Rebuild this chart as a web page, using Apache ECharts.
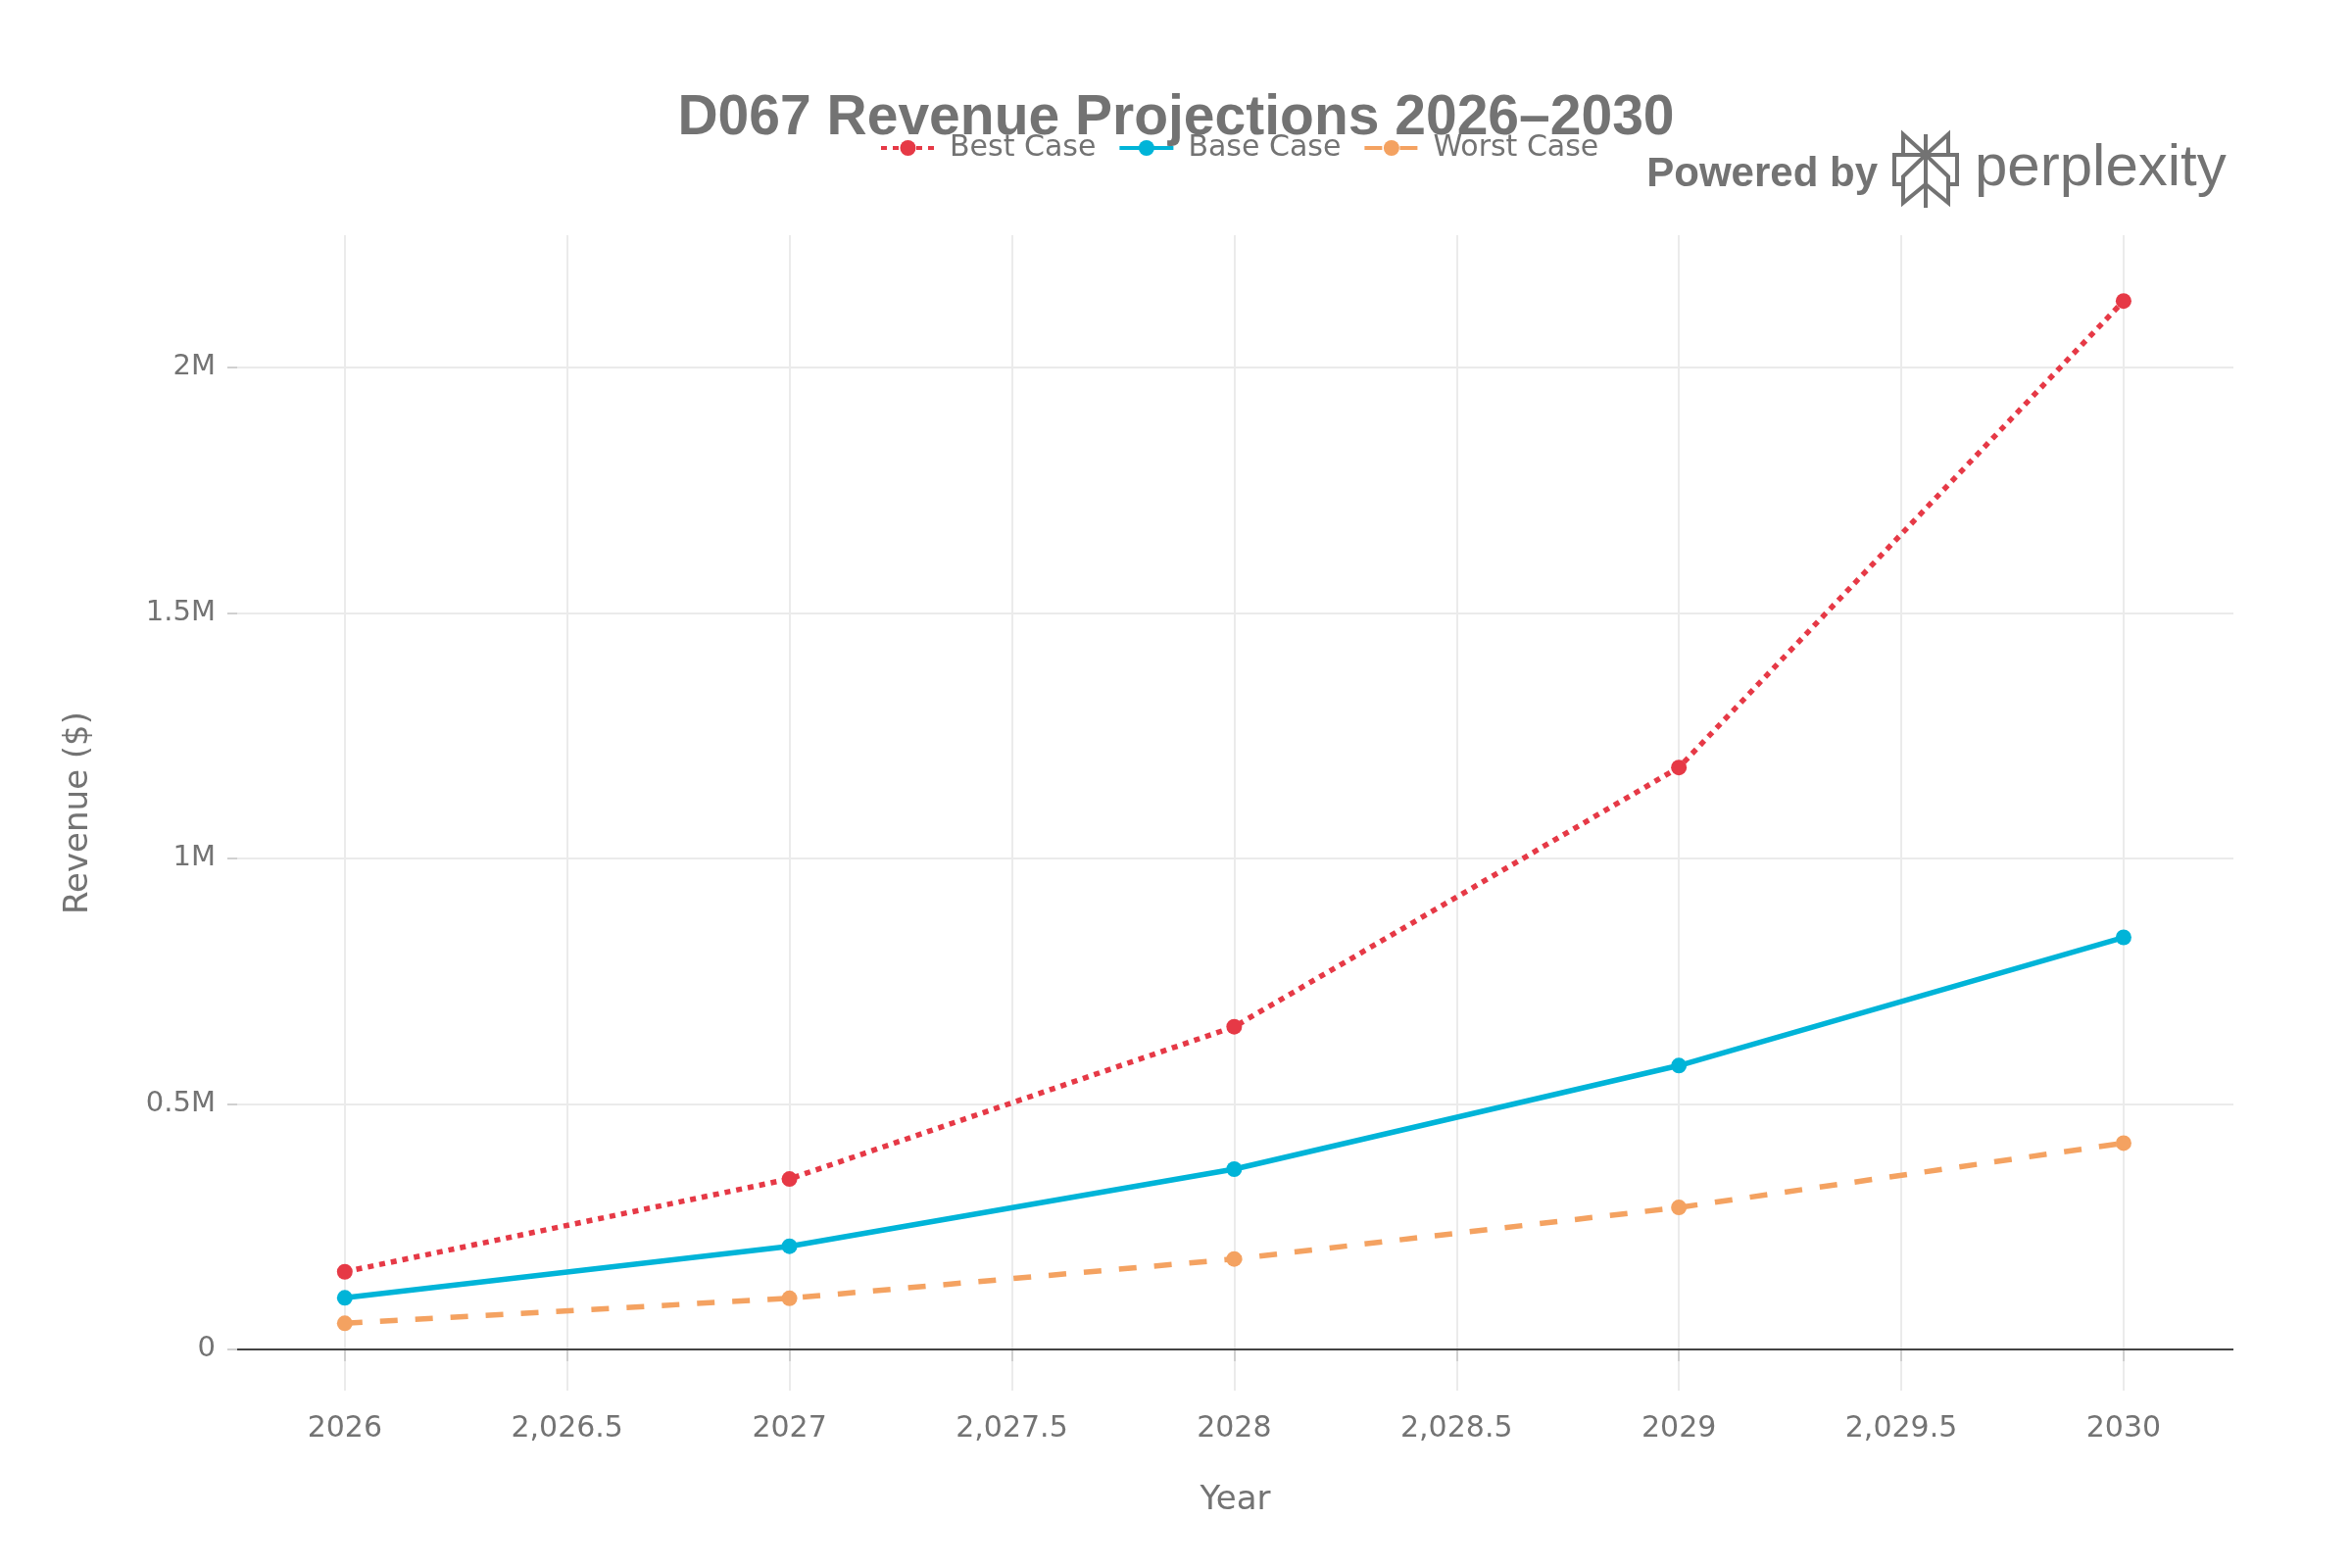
<!DOCTYPE html>
<html>
<head>
<meta charset="utf-8">
<script src="https://cdn.jsdelivr.net/npm/echarts@6/dist/echarts.min.js"></script>
<style>
  html, body { margin: 0; padding: 0; background: #fff; }
  #chart { width: 2400px; height: 1600px; }
</style>
</head>
<body>
<div id="chart"></div>
<script>
// data
const years = [2026, 2027, 2028, 2029, 2030];
const bestCase = [158000, 347000, 657000, 1185000, 2135000];
const baseCase = [105000, 210000, 367000, 578000, 839000];
const worstCase = [53000, 104000, 184000, 289000, 420000];
const xTicks = [2026, 2026.5, 2027, 2027.5, 2028, 2028.5, 2029, 2029.5, 2030];
const yTicks = [0, 500000, 1000000, 1500000, 2000000];

const gray = '#737373';
const tickFont = 'DejaVu Sans';

const chart = echarts.init(document.getElementById('chart'));

const pairs = (vals) => years.map((y, i) => [y, vals[i]]);

// perplexity logo, drawn as strokes around a centre x
const cx = 1965, ty = 137;
const logoLines = [
  [[0, 0], [0, 75]],
  [[-23, 21], [-23, 0], [0, 21], [23, 0], [23, 21]],
  [[-23, 51], [-32, 51], [-32, 21], [32, 21], [32, 51], [23, 51]],
  [[0, 51], [-23, 70], [-23, 43], [0, 21], [23, 43], [23, 70], [0, 51]]
];

const option = {
  backgroundColor: '#fff',
  animation: false,
  title: {
    text: 'D067 Revenue Projections 2026–2030',
    left: 'center',
    top: 88,
    textStyle: { fontFamily: 'Liberation Sans', fontSize: 57, fontWeight: 'bold', color: gray }
  },
  legend: {
    top: 131,
    left: 892, // legend sits centred over the plot area, not the page
    itemGap: 22,
    itemWidth: 55,
    itemHeight: 20,
    lineStyle: { width: 4 },
    textStyle: { fontFamily: tickFont, fontSize: 30, color: gray, padding: [0, 0, 0, 10] },
    data: ['Best Case', 'Base Case', 'Worst Case']
  },
  grid: { left: 242, right: 121, top: 240, bottom: 181, containLabel: false },
  xAxis: {
    type: 'value',
    min: 2025.758,
    max: 2030.247,
    name: 'Year',
    nameLocation: 'middle',
    nameGap: 95,
    nameTextStyle: { fontFamily: tickFont, fontSize: 34, color: gray },
    axisLine: { show: false },
    axisTick: { show: true, length: 12, lineStyle: { color: '#d0d0d0', width: 2 }, customValues: xTicks },
    axisLabel: {
      margin: 24,
      fontFamily: tickFont,
      fontSize: 30,
      color: gray,
      customValues: xTicks,
      formatter: (v) => Number.isInteger(v) ? String(v) : v.toLocaleString('en-US', { maximumFractionDigits: 1 })
    },
    splitLine: { show: true, lineStyle: { color: '#ebebeb', width: 2 } }
  },
  yAxis: {
    type: 'value',
    min: -84000,
    max: 2269000,
    name: 'Revenue ($)',
    nameLocation: 'middle',
    nameGap: 145,
    nameTextStyle: { fontFamily: tickFont, fontSize: 34, color: gray },
    axisLine: { show: false },
    axisTick: { show: true, length: 10, lineStyle: { color: '#d0d0d0', width: 2 }, customValues: yTicks },
    axisLabel: {
      margin: 22,
      fontFamily: tickFont,
      fontSize: 29,
      color: gray,
      customValues: yTicks,
      formatter: (v) => v === 0 ? '0' : (v / 1e6) + 'M'
    },
    splitLine: { show: true, lineStyle: { color: '#ebebeb', width: 2 } }
  },
  series: [
    {
      name: 'Best Case',
      type: 'line',
      data: pairs(bestCase),
      symbol: 'circle',
      symbolSize: 16,
      itemStyle: { color: '#e63946' },
      lineStyle: { color: '#e63946', width: 5.5, type: [6, 6] }
    },
    {
      name: 'Base Case',
      type: 'line',
      data: pairs(baseCase),
      symbol: 'circle',
      symbolSize: 16,
      itemStyle: { color: '#00b4d8' },
      lineStyle: { color: '#00b4d8', width: 5.5, type: 'solid' },
      markLine: {
        silent: true,
        symbol: 'none',
        label: { show: false },
        lineStyle: { color: '#444', width: 2, type: 'solid' },
        data: [{ yAxis: 0 }]
      }
    },
    {
      name: 'Worst Case',
      type: 'line',
      data: pairs(worstCase),
      symbol: 'circle',
      symbolSize: 16,
      itemStyle: { color: '#f4a261' },
      lineStyle: { color: '#f4a261', width: 5.5, type: [18, 18] }
    }
  ],
  graphic: [
    {
      type: 'text',
      x: 1916, y: 178,
      style: { text: 'Powered by', fontFamily: 'Liberation Sans', fontSize: 42, fontWeight: 'bold', fill: gray, align: 'right', verticalAlign: 'middle' }
    },
    {
      type: 'text',
      x: 2015, y: 172,
      style: { text: 'perplexity', fontFamily: 'Liberation Sans', fontSize: 60, fill: gray, align: 'left', verticalAlign: 'middle' }
    }
  ].concat(logoLines.map((pts) => ({
    type: 'polyline',
    shape: { points: pts.map(([dx, dy]) => [cx + dx, ty + dy]) },
    style: { stroke: gray, lineWidth: 4, fill: null, lineJoin: 'miter' }
  })))
};

option && chart.setOption(option);
</script>
</body>
</html>
